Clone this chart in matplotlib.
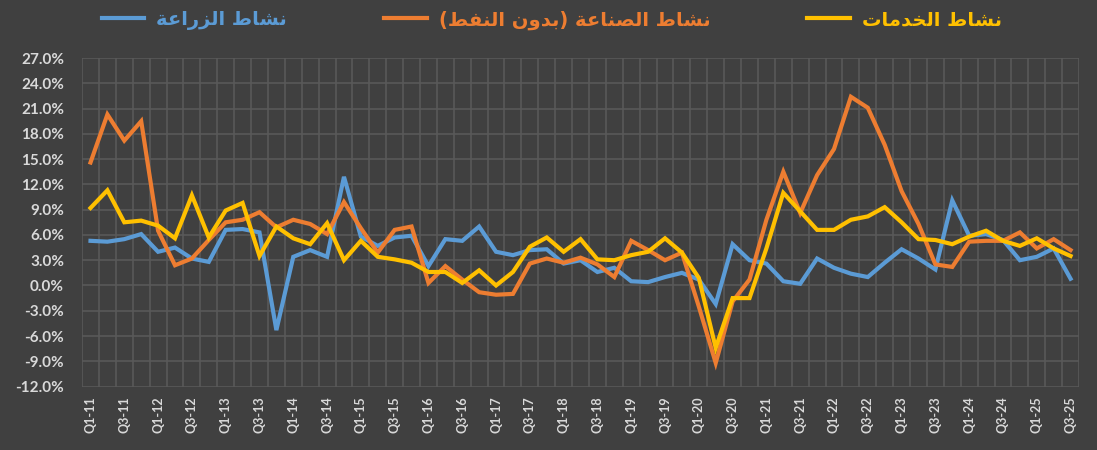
import matplotlib
matplotlib.use('Agg')
import matplotlib.pyplot as plt
from matplotlib.ticker import FuncFormatter, FixedLocator

# quarters Q1-11 .. Q3-25
quarters = [f"Q{q}-{y:02d}" for y in range(11, 26) for q in (1, 2, 3, 4)][:59]

agriculture = [5.3, 5.2, 5.5, 6.1, 4.0, 4.5, 3.2, 2.8, 6.6, 6.7,
               6.3, -5.3, 3.4, 4.2, 3.4, 12.9, 5.8, 4.7, 5.7, 5.9,
               2.3, 5.5, 5.3, 7.0, 4.0, 3.6, 4.2, 4.3, 2.6, 3.0,
               1.6, 2.1, 0.5, 0.4, 1.0, 1.5, 0.7, -2.2, 4.9, 3.0,
               2.6, 0.5, 0.2, 3.2, 2.1, 1.4, 1.0, 2.7, 4.3, 3.2,
               1.9, 10.1, 5.9, 6.1, 5.4, 3.0, 3.4, 4.4, 0.8]

industry = [14.6, 20.3, 17.2, 19.5, 6.5, 2.4, 3.2, 5.4, 7.5, 7.8,
            8.7, 6.9, 7.8, 7.3, 6.1, 9.9, 6.8, 3.9, 6.6, 7.0,
            0.3, 2.3, 0.7, -0.8, -1.1, -1.0, 2.6, 3.2, 2.7, 3.3,
            2.5, 1.0, 5.3, 4.2, 3.0, 3.9, -2.5, -9.2, -1.9, 0.7,
            7.8, 13.5, 8.6, 13.1, 16.2, 22.4, 21.1, 16.7, 11.2, 7.3,
            2.5, 2.2, 5.2, 5.3, 5.3, 6.3, 4.4, 5.5, 4.2]

services = [9.2, 11.3, 7.5, 7.7, 7.1, 5.6, 10.7, 5.7, 8.9, 9.8,
            3.5, 7.0, 5.6, 4.9, 7.4, 3.0, 5.3, 3.4, 3.1, 2.7,
            1.6, 1.6, 0.3, 1.8, 0.0, 1.6, 4.6, 5.7, 4.0, 5.5,
            3.1, 3.0, 3.6, 4.0, 5.6, 3.9, 0.9, -7.4, -1.5, -1.5,
            4.4, 11.0, 8.8, 6.6, 6.6, 7.8, 8.2, 9.3, 7.5, 5.5,
            5.4, 4.9, 5.8, 6.5, 5.3, 4.7, 5.6, 4.4, 3.5]

series_names = ["نشاط الزراعة", "نشاط الصناعة (بدون النفط)", "نشاط الخدمات"]
series_colors = ["#5B9BD5", "#ED7D31", "#FFC000"]

# --- minimal arabic shaping (matplotlib has no bidi / shaping) ---
# isolated, final, initial, medial
FORMS = {
    'ا': (0xFE8D, 0xFE8E, None, None),
    'ب': (0xFE8F, 0xFE90, 0xFE91, 0xFE92),
    'ة': (0xFE93, 0xFE94, None, None),
    'ت': (0xFE95, 0xFE96, 0xFE97, 0xFE98),
    'خ': (0xFEA5, 0xFEA6, 0xFEA7, 0xFEA8),
    'د': (0xFEA9, 0xFEAA, None, None),
    'ر': (0xFEAD, 0xFEAE, None, None),
    'ز': (0xFEAF, 0xFEB0, None, None),
    'ش': (0xFEB5, 0xFEB6, 0xFEB7, 0xFEB8),
    'ص': (0xFEB9, 0xFEBA, 0xFEBB, 0xFEBC),
    'ط': (0xFEC1, 0xFEC2, 0xFEC3, 0xFEC4),
    'ع': (0xFEC9, 0xFECA, 0xFECB, 0xFECC),
    'ف': (0xFED1, 0xFED2, 0xFED3, 0xFED4),
    'ل': (0xFEDD, 0xFEDE, 0xFEDF, 0xFEE0),
    'م': (0xFEE1, 0xFEE2, 0xFEE3, 0xFEE4),
    'ن': (0xFEE5, 0xFEE6, 0xFEE7, 0xFEE8),
    'و': (0xFEED, 0xFEEE, None, None),
}


def shape(text):
    out = []
    for i, ch in enumerate(text):
        if ch not in FORMS:
            out.append(ch)
            continue
        prev = text[i - 1] if i > 0 else ''
        nxt = text[i + 1] if i + 1 < len(text) else ''
        join_prev = prev in FORMS and FORMS[prev][2] is not None
        join_next = nxt in FORMS and FORMS[ch][2] is not None
        iso, fin, ini, med = FORMS[ch]
        if join_prev and join_next:
            cp = med
        elif join_prev:
            cp = fin
        elif join_next:
            cp = ini
        else:
            cp = iso
        out.append(chr(cp))
    vis = ''.join(out)[::-1]
    return vis.translate(str.maketrans('()', ')('))


BG = '#404040'
GRID = '#595959'
TXT = '#D9D9D9'

fig = plt.figure(figsize=(10.97, 4.5), dpi=100, facecolor=BG)
ax = fig.add_axes([0.0748, 0.141, 0.9088, 0.730])
ax.set_facecolor(BG)

x = list(range(len(quarters)))
lines = []
for vals, name, col in zip([agriculture, industry, services], series_names, series_colors):
    ln, = ax.plot(x, vals, color=col, lw=3.0, solid_joinstyle='miter', label=shape(name))
    lines.append(ln)

ax.set_xlim(-0.5, len(quarters) - 0.5)
ax.set_ylim(-12, 27)
ax.set_yticks(range(-12, 28, 3))
ax.yaxis.set_major_formatter(FuncFormatter(lambda v, p: f"{v:.1f}%"))

ax.set_xticks(x[::2])
ax.set_xticklabels(quarters[::2], rotation=90)
ax.xaxis.set_minor_locator(FixedLocator([i - 0.5 for i in range(len(quarters) + 1)]))
ax.grid(which='minor', axis='x', color=GRID, lw=1.2)
ax.grid(which='major', axis='y', color=GRID, lw=1.2)
ax.set_axisbelow(True)

for s in ax.spines.values():
    s.set_visible(False)
ax.tick_params(which='both', length=0)
ax.tick_params(axis='y', pad=13, colors=TXT)
ax.tick_params(axis='x', pad=7, colors=TXT)
for lab in ax.get_yticklabels():
    lab.set_fontfamily('Lato')
    lab.set_fontweight('bold')
    lab.set_fontsize(11)
for lab in ax.get_xticklabels():
    lab.set_fontfamily('Lato')
    lab.set_fontweight('bold')
    lab.set_fontsize(9)

leg = fig.legend(handles=lines, loc='center', bbox_to_anchor=(0.503, 0.955), ncol=3,
                 frameon=False, handlelength=2.2, handletextpad=0.6, columnspacing=5.0,
                 prop={'family': 'DejaVu Sans', 'weight': 'bold', 'size': 14})
for t, col in zip(leg.get_texts(), series_colors):
    t.set_color(col)

fig.savefig('out.png', dpi=100, facecolor=BG)
